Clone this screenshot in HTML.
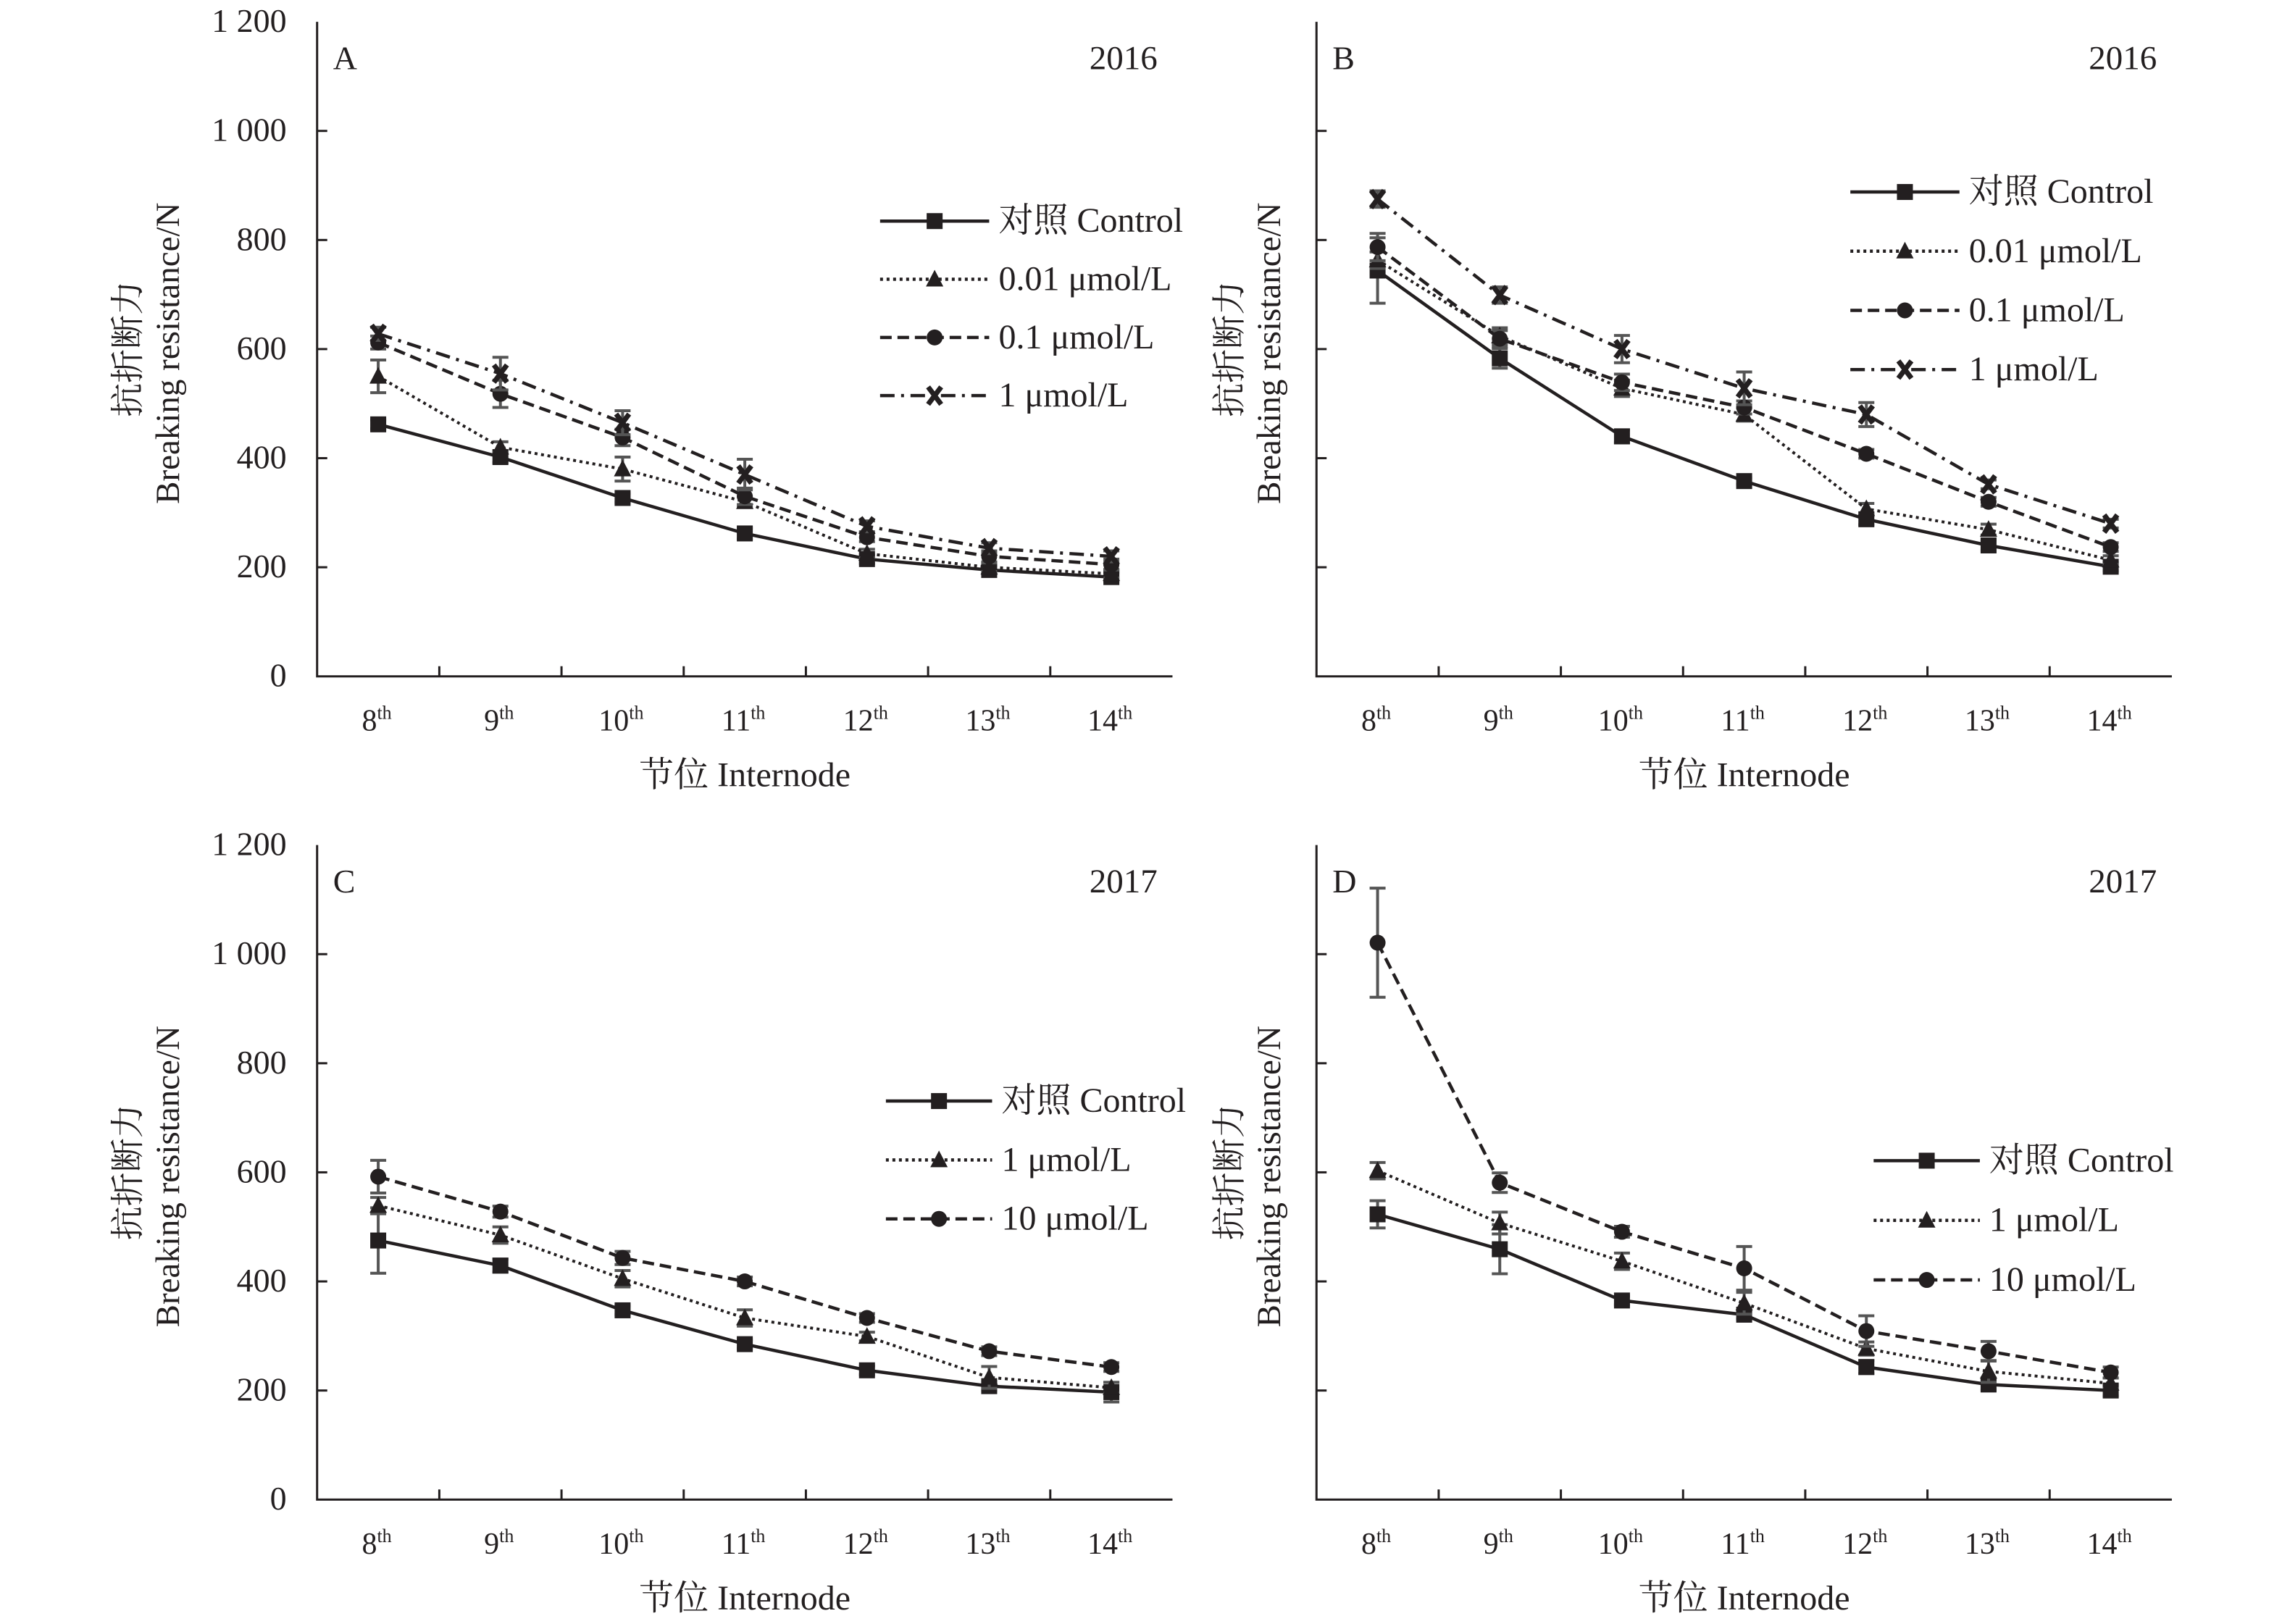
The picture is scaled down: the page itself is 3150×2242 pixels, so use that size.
<!DOCTYPE html>
<html><head><meta charset="utf-8"><style>
html,body{margin:0;padding:0;background:#fff;}
svg{display:block;}
text{font-family:"Liberation Serif","Noto Serif CJK SC","Noto Sans CJK SC",serif;fill:#231f20;}
</style></head>
<body>
<svg id="chart" xmlns="http://www.w3.org/2000/svg" width="3150" height="2242" viewBox="0 0 3150 2242"></svg>
<script>
const categories = ["8","9","10","11","12","13","14"];
const yTicks = [0,200,400,600,800,1000,1200];
const yTickLabels = ["0","200","400","600","800","1 000","1 200"];

const aNames = ["对照 Control","0.01 μmol/L","0.1 μmol/L","1 μmol/L"];
const aControl = [462,402,327,262,215,195,182];
const a001 = [550,420,380,320,225,200,188];
const a01 = [612,518,438,330,255,220,205];
const a1 = [628,555,465,370,275,235,220];
const aErrControl = [8,10,8,10,8,8,8];
const aErr001 = [30,10,22,10,8,8,8];
const aErr01 = [12,25,15,15,8,10,10];
const aErr1 = [12,30,22,28,10,10,10];

const bNames = ["对照 Control","0.01 μmol/L","0.1 μmol/L","1 μmol/L"];
const bControl = [744,583,440,358,288,240,201];
const b001 = [763,624,528,480,307,269,213];
const b01 = [787,619,539,493,408,320,237];
const b1 = [875,699,600,528,480,352,280];
const bErrControl = [60,18,12,6,10,10,8];
const bErr001 = [15,15,15,12,10,10,8];
const bErr01 = [25,15,15,12,8,8,8];
const bErr1 = [15,15,25,30,22,8,8];

const cNames = ["对照 Control","1 μmol/L","10 μmol/L"];
const cControl = [475,429,347,285,237,208,197];
const c1 = [539,485,405,333,299,224,205];
const c10 = [592,528,443,400,333,272,243];
const cErrControl = [60,12,8,8,8,8,18];
const cErr1 = [15,15,15,15,8,20,10];
const cErr10 = [30,10,12,8,8,8,8];

const dNames = ["对照 Control","1 μmol/L","10 μmol/L"];
const dControl = [523,459,365,339,243,211,200];
const d1 = [603,507,437,360,277,235,213];
const d10 = [1021,581,491,424,309,272,233];
const dErrControl = [25,45,8,8,12,10,10];
const dErr1 = [15,20,15,20,12,20,10];
const dErr10 = [100,18,10,40,28,18,10];

const S = 2.008;
const NS = "http://www.w3.org/2000/svg";
const svg = document.getElementById('chart');
function mk(tag, attrs, parent){
  const e = document.createElementNS(NS, tag);
  for (const k in attrs) e.setAttribute(k, attrs[k]);
  (parent||svg).appendChild(e);
  return e;
}
const styles = {
  solid:{dash:"none", marker:"square"},
  dotted:{dash:"4 5", marker:"triangle"},
  dashed:{dash:"16 8", marker:"circle"},
  dashdot:{dash:"20 9 4 9", marker:"star"}
};
function marker(g, type, x, y){
  let m;
  if (type==="square") m = mk('rect',{x:x-11,y:y-11,width:22,height:22,fill:'#231f20'},g);
  else if (type==="triangle") m = mk('polygon',{points:`${x},${y-13} ${x+12},${y+10} ${x-12},${y+10}`,fill:'#231f20'},g);
  else if (type==="circle") m = mk('circle',{cx:x,cy:y,r:11,fill:'#231f20'},g);
  else { m = mk('path',{d:`M${x-9},${y-12}L${x+9},${y+12}M${x+9},${y-12}L${x-9},${y+12}M${x-4},${y}H${x+4}`,stroke:'#231f20','stroke-width':7,fill:'none'},g); }
  return m;
}

function panel(cfg){
  const g = mk('g',{});
  
  
  const x0 = cfg.x0, yb = cfg.yb, band = 84*S, W = band*7;
  const yS = v => yb - v*0.375*S;
  const xS = i => x0 + band*(i+0.5);
  const ax = mk('path',{d:`M${x0},${yS(1200)}V${yb}H${x0+W}`,stroke:'#231f20','stroke-width':3,fill:'none'},g);
  
  
  yTicks.forEach((t,i)=>{
    if (t>0 && t<1200) mk('line',{x1:x0,x2:x0+14,y1:yS(t),y2:yS(t),stroke:'#231f20','stroke-width':3},g);
    if (cfg.labels){
      const tx = mk('text',{x:197*S,y:yS(t)+14,'text-anchor':'end','font-size':46},g);
      tx.textContent = yTickLabels[i];
      
      
    }
  });
  for (let i=1;i<7;i++) mk('line',{x1:x0+band*i,x2:x0+band*i,y1:yb,y2:yb-14,stroke:'#231f20','stroke-width':3},g);
  categories.forEach((c,i)=>{
    const t = mk('text',{x:xS(i)-2,y:yb+75,'text-anchor':'middle','font-size':42},g);
    
    
    t.appendChild(document.createTextNode(c));
    const sp = mk('tspan',{'font-size':26,dy:-16},t);
    sp.textContent='th';
  });
  const xt = mk('text',{x:x0+W/2,y:yb+152,'text-anchor':'middle','font-size':48},g);
  xt.textContent = '节位 Internode';
  
  
  const yc = yb - 452;
  const y1 = mk('text',{x:0,y:0,'text-anchor':'middle','font-size':47,transform:`translate(${cfg.t1*S+16},${yc}) rotate(-90)`},g);
  y1.textContent='抗折断力';
  
  
  const y2 = mk('text',{x:0,y:0,'text-anchor':'middle','font-size':47,transform:`translate(${cfg.t2*S+14},${yc+6}) rotate(-90)`},g);
  y2.textContent='Breaking resistance/N';
  
  
  const pl = mk('text',{x:x0+22,y:yb-838,'font-size':46},g);
  pl.textContent = cfg.id;
  
  
  const yr = mk('text',{x:x0+1160,y:yb-838,'text-anchor':'end','font-size':47},g);
  yr.textContent = cfg.year;
  
  
  cfg.series.forEach((s,si)=>{
    const st = styles[s.style];
    const sg = mk('g',{},g);
    
    
    s.err.forEach((e,i)=>{
      const x=xS(i), ya=yS(s.vals[i]+e), yb2=yS(s.vals[i]-e);
      mk('path',{d:`M${x},${ya}V${yb2}M${x-11},${ya}H${x+11}M${x-11},${yb2}H${x+11}`,stroke:'#555','stroke-width':4,fill:'none'},sg);
    });
    const pts = s.vals.map((v,i)=>`${xS(i)},${yS(v)}`).join(' ');
    const ln = mk('polyline',{points:pts,fill:'none',stroke:'#231f20','stroke-width':st.dash==="4 5"?4:4.5,'stroke-dasharray':st.dash},sg);
    
    
    s.vals.forEach((v,i)=>{
      const m = marker(sg, st.marker, xS(i), yS(v));
      
      
    });
    const L = cfg.legend;
    const ly = L.y0 + si*L.dy;
    const lg = mk('g',{},g);
    
    
    mk('line',{x1:L.x1,x2:L.x2,y1:ly,y2:ly,stroke:'#231f20','stroke-width':4.5,'stroke-dasharray':st.dash},lg);
    marker(lg, st.marker, (L.x1+L.x2)/2, ly);
    const lt = mk('text',{x:L.x2+13,y:ly+15,'font-size':48},lg);
    lt.textContent = s.name;
  });
}

panel({id:'A',year:'2016',x0:218*S,yb:465*S,labels:true,t1:88,t2:116,
  legend:{x1:605*S,x2:680*S,y0:152*S,dy:40*S},
  series:[{name:aNames[0],vals:aControl,err:aErrControl,style:'solid'},
          {name:aNames[1],vals:a001,err:aErr001,style:'dotted'},
          {name:aNames[2],vals:a01,err:aErr01,style:'dashed'},
          {name:aNames[3],vals:a1,err:aErr1,style:'dashdot'}]});
panel({id:'B',year:'2016',x0:905*S,yb:465*S,labels:false,t1:845,t2:873,
  legend:{x1:1272*S,x2:1347*S,y0:132*S,dy:40.7*S},
  series:[{name:bNames[0],vals:bControl,err:bErrControl,style:'solid'},
          {name:bNames[1],vals:b001,err:bErr001,style:'dotted'},
          {name:bNames[2],vals:b01,err:bErr01,style:'dashed'},
          {name:bNames[3],vals:b1,err:bErr1,style:'dashdot'}]});
panel({id:'C',year:'2017',x0:218*S,yb:1031*S,labels:true,t1:88,t2:116,
  legend:{x1:609*S,x2:682*S,y0:757*S,dy:40.5*S},
  series:[{name:cNames[0],vals:cControl,err:cErrControl,style:'solid'},
          {name:cNames[1],vals:c1,err:cErr1,style:'dotted'},
          {name:cNames[2],vals:c10,err:cErr10,style:'dashed'}]});
panel({id:'D',year:'2017',x0:905*S,yb:1031*S,labels:false,t1:845,t2:873,
  legend:{x1:1288*S,x2:1361*S,y0:798*S,dy:41*S},
  series:[{name:dNames[0],vals:dControl,err:dErrControl,style:'solid'},
          {name:dNames[1],vals:d1,err:dErr1,style:'dotted'},
          {name:dNames[2],vals:d10,err:dErr10,style:'dashed'}]});
</script>
</body></html>
